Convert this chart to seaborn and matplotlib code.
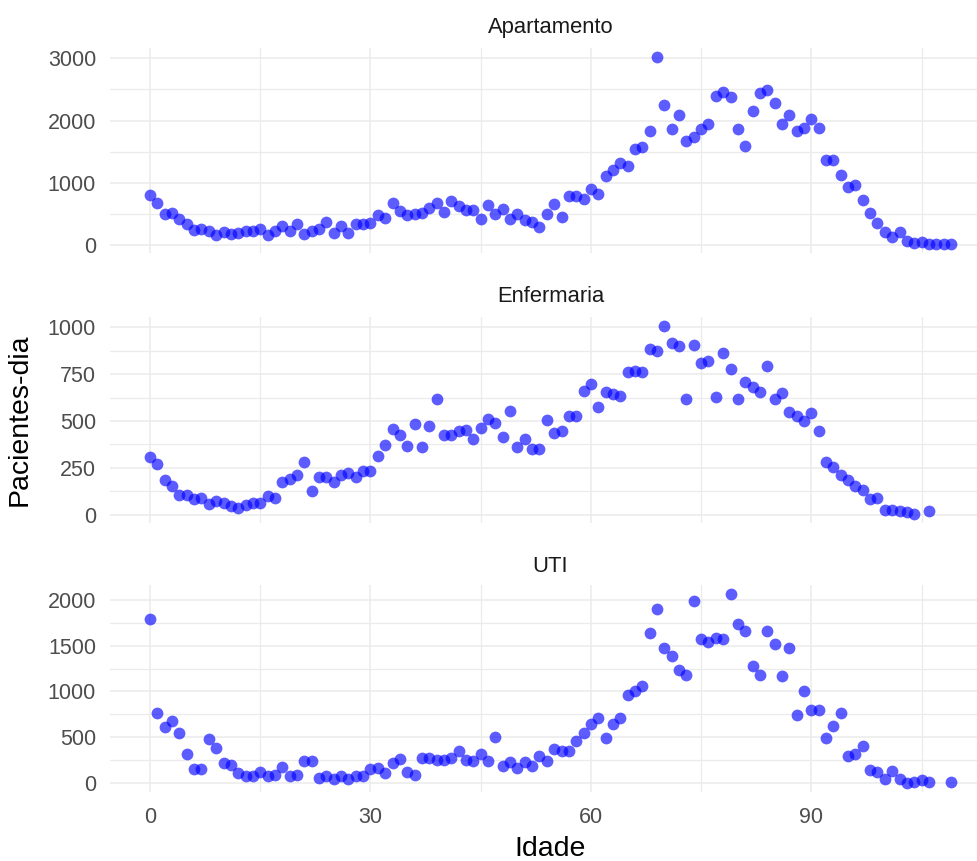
import numpy as np
import pandas as pd
import matplotlib
matplotlib.use("Agg")
import matplotlib.pyplot as plt
from matplotlib.ticker import MultipleLocator
import seaborn as sns

# ---------------- data ----------------
panels = ["Apartamento", "Enfermaria", "UTI"]

apto_idade = list(range(0, 110))
apto_valor = [812, 677, 495, 521, 425, 339, 247, 263, 226, 167,
              210, 172, 199, 226, 226, 258, 167, 226, 306, 220,
              339, 183, 226, 263, 371, 194, 312, 194, 339, 339,
              355, 478, 430, 677, 543, 478, 495, 516, 597, 677,
              532, 704, 629, 559, 570, 425, 650, 505, 586, 425,
              505, 400, 375, 295, 495, 656, 452, 785, 785, 747,
              898, 828, 1113, 1204, 1323, 1274, 1543, 1570, 1839, 3016,
              2253, 1860, 2091, 1672, 1742, 1866, 1941, 2387, 2451, 2376,
              1860, 1591, 2156, 2440, 2494, 2279, 1941, 2091, 1833, 1887,
              2027, 1876, 1366, 1366, 1124, 935, 962, 720, 516, 355,
              210, 135, 215, 62, 38, 48, 22, 22, 22, 22]

enf_idade = list(range(0, 105)) + [106]
enf_valor = [308, 270, 183, 151, 107, 107, 84, 89, 57, 71,
             62, 44, 36, 50, 62, 62, 98, 89, 174, 190,
             210, 281, 128, 201, 201, 173, 213, 222, 199, 231,
             235, 315, 374, 457, 427, 368, 486, 359, 471, 619,
             427, 427, 448, 454, 404, 463, 511, 489, 413, 551,
             359, 404, 350, 350, 507, 436, 448, 525, 525, 662,
             699, 573, 653, 644, 635, 760, 769, 760, 884, 875,
             1005, 916, 898, 617, 907, 809, 818, 626, 863, 777,
             619, 706, 680, 655, 795, 619, 649, 546, 525, 498,
             543, 445, 281, 254, 213, 183, 151, 133, 85, 89,
             27, 27, 18, 12, 5, 18]

uti_idade = list(range(0, 107)) + [109]
uti_valor = [1790, 765, 614, 673, 551, 312, 154, 154, 478, 379,
             221, 202, 110, 74, 74, 121, 74, 92, 173, 81,
             92, 246, 246, 55, 81, 48, 74, 48, 74, 74,
             154, 165, 110, 221, 265, 118, 92, 276, 276, 250,
             250, 276, 349, 257, 239, 320, 239, 507, 184, 228,
             165, 228, 184, 298, 246, 368, 349, 349, 460, 551,
             643, 709, 496, 643, 709, 963, 1000, 1055, 1643, 1900,
             1470, 1390, 1231, 1176, 1992, 1573, 1537, 1581, 1573, 2059,
             1735, 1665, 1279, 1176, 1665, 1518, 1165, 1470, 746, 1000,
             801, 801, 496, 618, 765, 294, 312, 404, 140, 118,
             44, 129, 44, 5, 7, 37, 7, 7]

y_major = {"Apartamento": 1000, "Enfermaria": 250, "UTI": 500}
x_ticks = [0, 30, 60, 90]

df = pd.concat([
    pd.DataFrame({"Idade": apto_idade, "Pacientes-dia": apto_valor, "tipo": "Apartamento"}),
    pd.DataFrame({"Idade": enf_idade, "Pacientes-dia": enf_valor, "tipo": "Enfermaria"}),
    pd.DataFrame({"Idade": uti_idade, "Pacientes-dia": uti_valor, "tipo": "UTI"}),
], ignore_index=True)

# ---------------- figure ----------------
sns.set_theme(style="white")
plt.rcParams["font.family"] = ["Liberation Sans", "DejaVu Sans"]

W, H = 977, 861
fig = plt.figure(figsize=(W / 100, H / 100), dpi=100)

# pixel boxes (left, top, right, bottom)
boxes = {
    "Apartamento": (110, 48, 991, 253),
    "Enfermaria": (110, 317, 991, 523),
    "UTI": (110, 585, 991, 792),
}
title_y = {"Apartamento": 27, "Enfermaria": 297, "UTI": 567}

xmin, xmax = df["Idade"].min(), df["Idade"].max()
xr = xmax - xmin

grid_c = "#EBEBEB"
for name in panels:
    l, t, r, b = boxes[name]
    ax = fig.add_axes([l / W, 1 - b / H, (r - l) / W, (b - t) / H])
    sub = df[df["tipo"] == name]
    sns.scatterplot(data=sub, x="Idade", y="Pacientes-dia", ax=ax,
                    color="blue", alpha=0.64, s=72, linewidth=0, zorder=3)
    ymin, ymax = sub["Pacientes-dia"].min(), sub["Pacientes-dia"].max()
    yr = ymax - ymin
    ax.set_ylim(ymin - 0.05 * yr, ymax + 0.05 * yr)
    ax.set_xlim(xmin - 0.05 * xr, xmax + 0.05 * xr)
    ax.xaxis.set_major_locator(MultipleLocator(30))
    ax.xaxis.set_minor_locator(MultipleLocator(15))
    ax.yaxis.set_major_locator(MultipleLocator(y_major[name]))
    ax.yaxis.set_minor_locator(MultipleLocator(y_major[name] / 2))
    ax.grid(True, which="major", color=grid_c, linewidth=1.1, zorder=0)
    ax.grid(True, which="minor", color=grid_c, linewidth=0.9, zorder=0)
    ax.set_axisbelow(True)
    for s in ax.spines.values():
        s.set_visible(False)
    ax.tick_params(axis="both", which="both", length=0, labelsize=15.5,
                   labelcolor="#4D4D4D")
    ax.tick_params(axis="y", pad=10)
    ax.tick_params(axis="x", pad=11)
    ax.set_xlabel("")
    ax.set_ylabel("")
    if name != "UTI":
        ax.tick_params(axis="x", labelbottom=False)
    fig.text(((l + r) / 2) / W, 1 - title_y[name] / H, name,
             ha="center", va="center", fontsize=15.8, color="#1A1A1A")

fig.text(550 / W, 1 - 849 / H, "Idade", ha="center", va="center",
         fontsize=20.5, color="black")
fig.text(20 / W, 1 - 420 / H, "Pacientes-dia", ha="center", va="center",
         rotation=90, fontsize=20.5, color="black")

fig.savefig("out.png", dpi=100)
